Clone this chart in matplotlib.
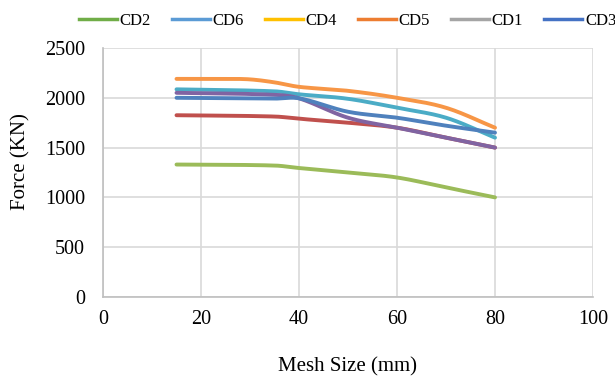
import numpy as np
import matplotlib
matplotlib.use("Agg")
import matplotlib.pyplot as plt
from matplotlib.lines import Line2D

plt.rcParams['font.family'] = ['Liberation Serif', 'DejaVu Serif']

# Data
labels = ["CD2", "CD6", "CD4", "CD5", "CD1", "CD3"]
legend_colors = ["#70AD47", "#5B9BD5", "#FFC000", "#ED7D31", "#A5A5A5", "#4472C4"]

x_green = [15, 35, 40, 50, 60, 70, 80]
y_green = [1330, 1320, 1295, 1250, 1200, 1100, 1000]

x_orange = [15, 25, 30, 35, 40, 50, 60, 70, 80]
y_orange = [2190, 2190, 2185, 2155, 2110, 2070, 2000, 1900, 1700]

x_teal = [15, 35, 40, 50, 60, 70, 80]
y_teal = [2085, 2065, 2035, 1990, 1900, 1800, 1600]

x_red = [15, 35, 40, 50, 60, 70, 80]
y_red = [1825, 1812, 1790, 1750, 1700, 1600, 1500]

x_purple = [15, 35, 40, 50, 60, 70, 80]
y_purple = [2050, 2030, 1995, 1800, 1700, 1600, 1500]

x_blue = [15, 35, 40, 50, 60, 70, 80]
y_blue = [2000, 1992, 1995, 1860, 1800, 1720, 1650]

series = [
    (x_green, y_green, "#9BBB59"),
    (x_teal, y_teal, "#4BACC6"),
    (x_red, y_red, "#C0504D"),
    (x_purple, y_purple, "#8064A2"),
    (x_blue, y_blue, "#4F81BD"),
    (x_orange, y_orange, "#F79646"),
]


def smooth(xs, ys, n=30):
    """Cubic Hermite curve through the points (drawing only)."""
    xs = np.asarray(xs, float)
    ys = np.asarray(ys, float)
    m = np.empty_like(ys)
    m[0] = (ys[1] - ys[0]) / (xs[1] - xs[0])
    m[-1] = (ys[-1] - ys[-2]) / (xs[-1] - xs[-2])
    m[1:-1] = (ys[2:] - ys[:-2]) / (xs[2:] - xs[:-2])
    ox, oy = [], []
    for i in range(len(xs) - 1):
        h = xs[i + 1] - xs[i]
        t = np.linspace(0, 1, n, endpoint=False)
        h00 = 2 * t ** 3 - 3 * t ** 2 + 1
        h10 = t ** 3 - 2 * t ** 2 + t
        h01 = -2 * t ** 3 + 3 * t ** 2
        h11 = t ** 3 - t ** 2
        ox.append(xs[i] + t * h)
        oy.append(h00 * ys[i] + h10 * h * m[i] + h01 * ys[i + 1] + h11 * h * m[i + 1])
    ox.append([xs[-1]])
    oy.append([ys[-1]])
    return np.concatenate(ox), np.concatenate(oy)


fig = plt.figure(figsize=(6.15, 3.76), dpi=100)
ax = fig.add_axes([103 / 615, 1 - 297 / 376, 490 / 615, 249 / 376])

for xs, ys, c in series:
    sx, sy = smooth(xs, ys)
    ax.plot(sx, sy, color=c, lw=2.8, solid_capstyle='round', solid_joinstyle='round', zorder=3)

ax.set_xlim(0, 100)
ax.set_ylim(0, 2500)
ax.set_xticks(np.arange(0, 101, 20))
ax.set_yticks(np.arange(0, 2501, 500))
ax.grid(True, color="#D9D9D9", lw=1.2)
ax.set_axisbelow(True)
for s in ["top", "right"]:
    ax.spines[s].set_visible(False)
for s in ["left", "bottom"]:
    ax.spines[s].set_color("#BFBFBF")
    ax.spines[s].set_linewidth(1.2)
ax.tick_params(length=0, labelsize=14.5, colors="black")
ax.tick_params(axis="x", pad=9)
ax.tick_params(axis="y", pad=13)
ax.set_xlabel("Mesh Size (mm)", fontsize=15)
ax.set_ylabel("Force (KN)", fontsize=15)
ax.xaxis.set_label_coords(0.5, -0.243)
ax.yaxis.set_label_coords(-0.149, 0.542)

handles = [Line2D([0], [0], color=c, lw=2.5) for c in legend_colors]
fig.legend(handles, labels, loc="center left", bbox_to_anchor=(79 / 615, 1 - 21 / 376),
           ncol=6, frameon=False, fontsize=12, handlelength=2.3, handletextpad=0.15,
           columnspacing=1.25, borderaxespad=0, borderpad=0)

fig.savefig("out.png", dpi=100)
